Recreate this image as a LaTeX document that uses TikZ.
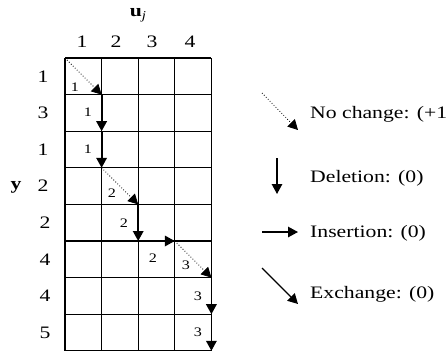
\documentclass[tikz,border=0pt]{standalone}
\usepackage{fontspec}
\setmainfont[FakeStretch=1.24]{Liberation Serif}
\usetikzlibrary{arrows.meta}
\begin{document}
\begin{tikzpicture}[x=1pt,y=-1pt,
  lbl/.style={font=\fontsize{17.5}{20}\selectfont, inner sep=0pt},
  cost/.style={font=\fontsize{13}{15}\selectfont, inner sep=0pt},
  gridline/.style={line width=1.1pt},
  move/.style={line width=1.3pt, -{Triangle[length=10pt,width=10.5pt]}},
  pathmove/.style={move, line width=1.8pt},
  keep/.style={line width=0.8pt, dotted, -{Triangle[length=10pt,width=10.5pt]}},
  legtxt/.style={font=\fontsize{17.5}{20}\selectfont, inner sep=0pt, anchor=west}]
\useasboundingbox (0,0) rectangle (446,351);
\def\cs{36.6}
% grid corner points p-<col>-<row>
\foreach \i in {0,...,4}{
  \foreach \j in {0,...,8}{
    \coordinate (p-\i-\j) at ({65+\i*\cs},{58+\j*\cs});
  }
}
% table grid
\foreach \i in {0,...,4}{\draw[gridline] (p-\i-0) -- (p-\i-8);}
\foreach \j in {0,...,8}{\draw[gridline] (p-0-\j) -- (p-4-\j);}
% column header
\node[lbl] (uj) at (138,15) {\textbf{u}\raisebox{-0.35ex}{\fontsize{12}{13}\selectfont\textit{j}}};
\node[lbl] (c1) at (82,42) {1};
\node[lbl] (c2) at (116,42) {2};
\node[lbl] (c3) at (152,42) {3};
\node[lbl] (c4) at (190,42) {4};
% row header
\node[lbl] (yv) at (16,187) {\textbf{y}};
\foreach \v/\k/\xx in {1/1/43,3/2/43,1/3/43,2/4/43,2/5/45,4/6/45,4/7/45,5/8/45}{
  \node[lbl] (r\k) at (\xx,{58+(\k-0.5)*\cs}) {\v};
}
% alignment path
\draw[keep] (p-0-0) -- (p-1-1);
\draw[pathmove] (p-1-1) -- (p-1-2);
\draw[pathmove] (p-1-2) -- (p-1-3);
\draw[keep] (p-1-3) -- (p-2-4);
\draw[pathmove] (p-2-4) -- (p-2-5);
\draw[pathmove] (p-2-5) -- (p-3-5);
\draw[keep] (p-3-5) -- (p-4-6);
\draw[pathmove] (p-4-6) -- (p-4-7);
\draw[pathmove] (p-4-7) -- (p-4-8);
% accumulated scores
\node[cost] (s1) at (75,87) {1};
\node[cost] (s2) at (88,112) {1};
\node[cost] (s3) at (88,149) {1};
\node[cost] (s4) at (112,193) {2};
\node[cost] (s5) at (124,223) {2};
\node[cost] (s6) at (153,258) {2};
\node[cost] (s7) at (186,265) {3};
\node[cost] (s8) at (198,296) {3};
\node[cost] (s9) at (198,332) {3};
% legend
\coordinate (a1) at (262,93);  \coordinate (b1) at (298,130);
\coordinate (a2) at (277,158); \coordinate (b2) at (277,194);
\coordinate (a3) at (262,232); \coordinate (b3) at (298,232);
\coordinate (a4) at (262,268); \coordinate (b4) at (298,304);
\draw[keep] (a1) -- (b1);
\draw[move] (a2) -- (b2);
\draw[move] (a3) -- (b3);
\draw[move] (a4) -- (b4);
\node[legtxt] (t1) at (310,114) {No change: (+1)};
\node[legtxt] (t2) at (310,178) {Deletion: (0)};
\node[legtxt] (t3) at (310,233) {Insertion: (0)};
\node[legtxt] (t4) at (310,294) {Exchange: (0)};
\end{tikzpicture}
\end{document}
